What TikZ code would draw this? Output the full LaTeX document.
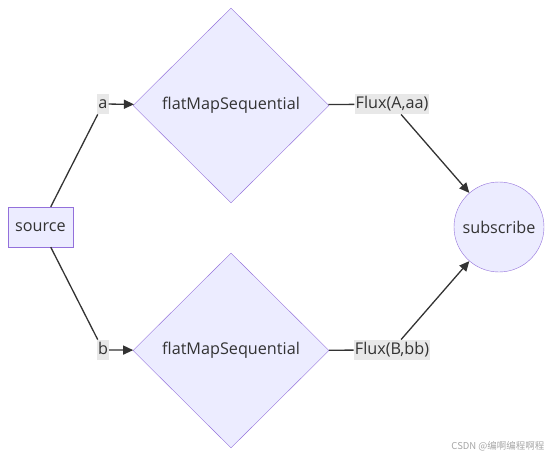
\documentclass[tikz,border=0pt]{standalone}
\usepackage{fontspec}
\setmainfont{Open Sans}
\newfontfamily\cjkfont{Noto Sans CJK SC}
\usepackage{xcolor}
\usetikzlibrary{arrows.meta,positioning,shapes.geometric}

\definecolor{nodefill}{HTML}{ECECFF}
\definecolor{nodeline}{HTML}{9370DB}
\definecolor{edgeline}{HTML}{333333}
\definecolor{labelbg}{HTML}{E8E8E8}

\begin{document}
\begin{tikzpicture}[
    x=1pt, y=-1pt,
    every node/.style={font=\fontsize{16.2}{19}\selectfont, text=edgeline},
    srcbox/.style={draw=nodeline, fill=nodefill, minimum width=65pt, minimum height=40pt, inner sep=0pt},
    decision/.style={diamond, draw=nodeline, fill=nodefill, minimum width=196pt, minimum height=195pt, inner sep=0pt},
    sink/.style={circle, draw=nodeline, fill=nodefill, minimum size=90pt, inner sep=0pt},
    elabel/.style={fill=labelbg, inner xsep=1pt, inner ysep=2.5pt, text height=12pt, text depth=3.5pt},
    conn/.style={draw=edgeline, line width=1.3pt},
    arr/.style={conn, -{Triangle[length=10pt,width=9pt]}}
  ]
  \useasboundingbox (0,0) rectangle (551,457);

  \node[srcbox] (src) at (40.5,227) {source};
  \node[decision] (fm1) at (231,105.5) {flatMapSequential};
  \node[decision] (fm2) at (231,350.5) {flatMapSequential};
  \node[sink] (sub) at (499,227) {subscribe};

  \node[elabel] (la) at (103,104) {a};
  \node[elabel] (lb) at (103,350) {b};
  \node[elabel] (fa) at (392,104) {Flux(A,aa)};
  \node[elabel] (fb) at (392,350) {Flux(B,bb)};

  % source -> a -> flatMapSequential
  \draw[conn] (src) -- (la);
  \draw[arr] (la) -- (fm1);
  \draw[conn] (src) -- (lb);
  \draw[arr] (lb) -- (fm2);

  % flatMapSequential -> Flux -> subscribe
  \draw[conn] (fm1) -- (fa);
  \draw[arr] (fa) -- (sub);
  \draw[conn] (fm2) -- (fb);
  \draw[arr] (fb) -- (sub);

  \node[font=\cjkfont\fontsize{9.5}{11}\selectfont, text=black!35, anchor=east] (wm) at (548,446) {CSDN @编啊编程啊程};
\end{tikzpicture}
\end{document}
